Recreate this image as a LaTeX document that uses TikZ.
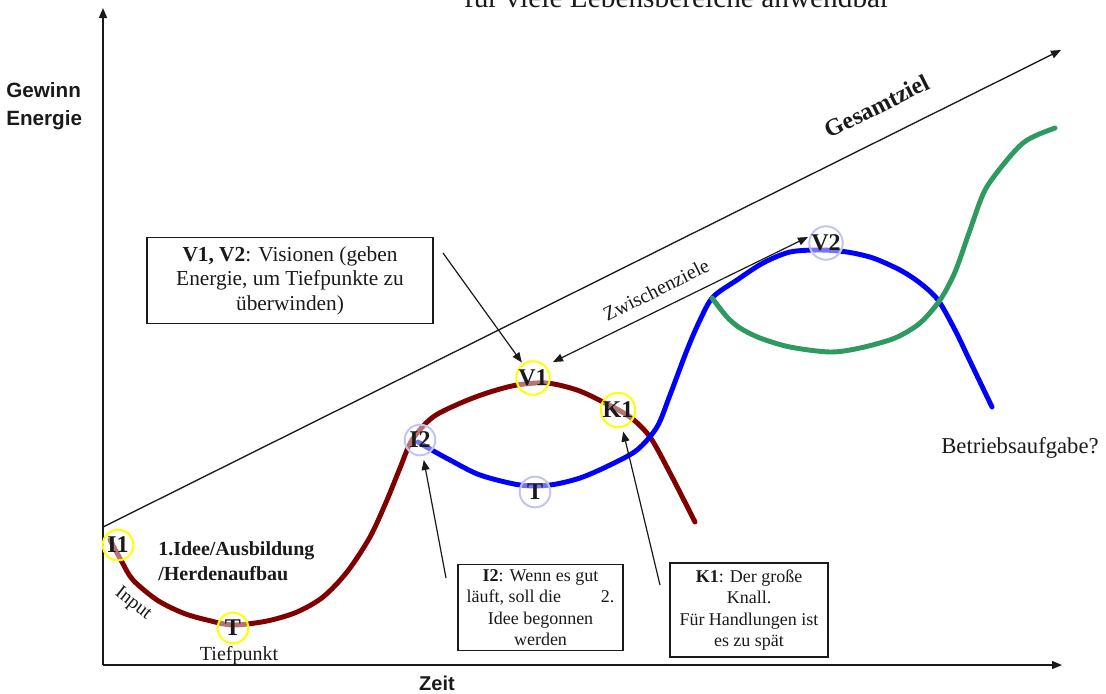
\documentclass[tikz,border=0pt]{standalone}
\usepackage{fontspec}
\setmainfont{Liberation Serif}
\setsansfont{Liberation Sans}
\usetikzlibrary{arrows.meta}
\definecolor{maroonc}{HTML}{800000}
\definecolor{bluec}{HTML}{0000FF}
\definecolor{greenc}{HTML}{2E9A60}
\definecolor{yelc}{HTML}{FFFF00}
\definecolor{lavc}{HTML}{C4C4F4}
\definecolor{inkc}{HTML}{1A1A1A}
\begin{document}
\begin{tikzpicture}[x=0.75pt,y=-0.75pt,
  curve/.style={line width=3.7pt,line join=round,line cap=round},
  markcirc/.style={circle,minimum size=23pt,inner sep=0pt,line width=1.5pt,
     fill=white,fill opacity=0.45,text opacity=1,text=inkc,
     font=\fontsize{18}{18}\selectfont\bfseries},
  ycirc/.style={markcirc,draw=yelc},
  bcirc/.style={markcirc,draw=lavc},
  arr/.style={-{Triangle[length=7.5pt,width=6pt]},line width=0.9pt,draw=inkc},
  axis/.style={-{Triangle[length=7.5pt,width=6pt]},line width=1.1pt,draw=inkc},
  boxst/.style={draw=inkc,line width=0.9pt,align=center,inner sep=2pt,text=inkc},
  lbl/.style={text=inkc,inner sep=0pt}
]
\useasboundingbox (0,0) rectangle (1106,693);

% title (cut off at top)
\node[lbl,anchor=base,font=\fontsize{22}{22}\selectfont] (title) at (677,7) {für viele Lebensbereiche anwendbar};

% axes
\coordinate (origin) at (103,665);
\coordinate (ytip) at (103,8);
\coordinate (xtip) at (1062,665);
\draw[axis] (origin) -- (ytip);
\draw[axis] (origin) -- (xtip);
\node[lbl,anchor=west,align=left,font=\sffamily\bfseries\fontsize{15.5}{21}\selectfont] (ylab) at (6,106) {Gewinn\\Energie};
\node[lbl,font=\sffamily\bfseries\fontsize{15}{15}\selectfont] (xlab) at (437,683) {Zeit};

% Gesamtziel line
\coordinate (gstart) at (103,527);
\coordinate (gend) at (1061,50);
\draw[axis,line width=1pt] (gstart) -- (gend);
\node[lbl,rotate=26.5,font=\fontsize{18}{18}\selectfont\bfseries] (gesamt) at (877,106) {Gesamtziel};

% curves
\draw[curve,maroonc] plot[smooth,tension=0.5] coordinates {
 (110,540) (122,562) (133,580) (157,600) (183,613) (207,620) (233,625) (267,621)
 (297,612) (323,597) (347,572) (370,537) (387,500) (400,468) (412,440) (433,417)
 (463,402) (490,392) (517,385) (547,383) (577,390) (603,402) (630,417) (650,437)
 (670,473) (695,522)};
\draw[curve,bluec] plot[smooth,tension=0.5] coordinates {
 (418,442) (430,449) (450,460) (480,475) (520,485) (550,485) (580,478) (610,465)
 (637,450) (657,427) (670,395) (687,350) (700,320) (713,297) (737,280) (763,263)
 (790,252) (820,250) (847,252) (873,258) (900,270) (920,283) (938,300) (955,330)
 (968,357) (980,382) (992,407)};
\draw[curve,greenc] plot[smooth,tension=0.5] coordinates {
 (712,298) (727,317) (740,328) (760,338) (790,347) (830,352) (860,348) (895,338)
 (920,323) (940,300) (955,272) (970,230) (985,190) (1007,160) (1023,143) (1037,135)
 (1055,128)};

% markers
\node[ycirc] (I1) at (118,545) {I1};
\node[ycirc] (T1) at (233,628) {T};
\node[ycirc] (V1) at (533,378) {V1};
\node[ycirc] (K1) at (618,410) {K1};
\node[bcirc] (I2) at (420,440) {I2};
\node[bcirc] (T2) at (535,492) {T};
\node[bcirc] (V2) at (826,243) {V2};

% labels
\node[lbl,anchor=west,align=left,font=\fontsize{15}{19}\selectfont\bfseries] (idee) at (158,561) {1.Idee/Ausbildung\\/Herdenaufbau};
\node[lbl,rotate=-38,font=\fontsize{14.5}{14.5}\selectfont] (input) at (133,604) {Input};
\node[lbl,anchor=base,font=\fontsize{15}{15}\selectfont] (tief) at (239,660) {Tiefpunkt};
\node[lbl,font=\fontsize{17}{17}\selectfont] (betrieb) at (1020,448) {Betriebsaufgabe?};
\node[lbl,rotate=26.5,font=\fontsize{15}{15}\selectfont] (zwisch) at (656,290) {Zwischenziele};

% boxes
\node[boxst,minimum width=214.5pt,minimum height=64pt,font=\fontsize{16}{18.4}\selectfont] (vbox) at (290,280.5)
 {\textbf{V1, V2}: Visionen (geben\\Energie, um Tiefpunkte zu\\überwinden)};
\node[boxst,minimum width=123.75pt,minimum height=64pt,font=\fontsize{13.5}{16}\selectfont] (ibox) at (540.5,607.5)
 {\textbf{I2}: Wenn es gut\\läuft, soll die\hspace{2.2em}2.\\Idee begonnen\\werden};
\node[boxst,minimum width=118.5pt,minimum height=70.5pt,font=\fontsize{13.5}{16}\selectfont] (kbox) at (749,610)
 {\textbf{K1}: Der große\\Knall.\\Für Handlungen ist\\es zu spät};

% connectors
\coordinate (vtail) at (443,253);
\draw[arr,shorten >=1pt] (vtail) -- (V1);
\coordinate (zA) at (553,362);
\coordinate (zB) at (808,237);
\draw[arr,{Triangle[length=7.5pt,width=6pt]}-{Triangle[length=7.5pt,width=6pt]}] (zA) -- (zB);
\coordinate (itail) at (446,578);
\draw[arr,shorten >=3pt] (itail) -- (I2);
\coordinate (ktail) at (660,585);
\draw[arr,shorten >=3pt] (ktail) -- (K1);
\end{tikzpicture}
\end{document}
